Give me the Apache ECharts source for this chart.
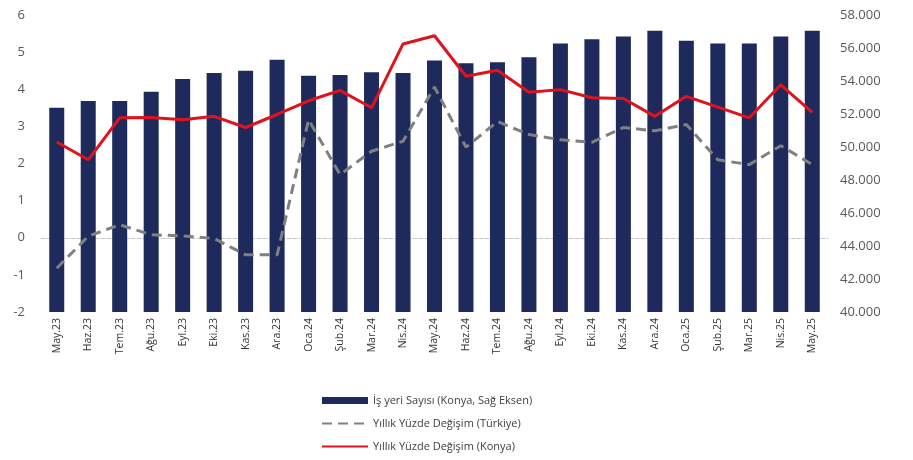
<!DOCTYPE html>
<html>
<head>
<meta charset="utf-8">
<script src="https://cdn.jsdelivr.net/npm/echarts@6/dist/echarts.min.js"></script>
<style>
  html, body { margin: 0; padding: 0; background: #fff; }
  #chart { width: 913px; height: 460px; }
</style>
</head>
<body>
<div id="chart"></div>
<script>
const months = ['May.23', 'Haz.23', 'Tem.23', 'Ağu.23', 'Eyl.23', 'Eki.23', 'Kas.23', 'Ara.23',
    'Oca.24', 'Şub.24', 'Mar.24', 'Nis.24', 'May.24', 'Haz.24', 'Tem.24', 'Ağu.24', 'Eyl.24',
    'Eki.24', 'Kas.24', 'Ara.24', 'Oca.25', 'Şub.25', 'Mar.25', 'Nis.25', 'May.25'];

// İş yeri sayısı (sağ eksen)
const isyeriKonya = [52380, 52790, 52790, 53350, 54120, 54480, 54620, 55290,
    54320, 54360, 54530, 54480, 55250, 55070, 55130, 55440, 56280,
    56530, 56690, 57050, 56440, 56280, 56280, 56690, 57050];

// Yıllık yüzde değişim (sol eksen)
const degisimTurkiye = [-0.82, 0.04, 0.35, 0.08, 0.05, -0.02, -0.46, -0.46,
    3.18, 1.70, 2.33, 2.60, 4.06, 2.44, 3.13, 2.78, 2.64,
    2.57, 2.97, 2.88, 3.05, 2.10, 1.97, 2.48, 1.97];

const degisimKonya = [2.58, 2.10, 3.23, 3.24, 3.18, 3.27, 2.97, 3.32,
    3.69, 3.97, 3.50, 5.22, 5.44, 4.35, 4.51, 3.92, 3.99,
    3.77, 3.75, 3.27, 3.81, 3.52, 3.23, 4.12, 3.38];

const fontName = '"Open Sans", Lato, sans-serif';

const option = {
    animation: false,
    grid: {
        left: 41,
        right: 85,
        top: 15,
        bottom: 148
    },
    legend: {
        orient: 'vertical',
        left: 316,
        top: 390,
        itemWidth: 46,
        itemHeight: 7,
        itemGap: 12,
        textStyle: {
            fontFamily: fontName,
            fontSize: 11,
            color: '#404040'
        },
        data: [
            { name: 'İş yeri Sayısı (Konya, Sağ Eksen)', icon: 'rect' },
            // sembol yok, sadece çizgi
            { name: 'Yıllık Yüzde Değişim (Türkiye)', itemStyle: { opacity: 0 } },
            { name: 'Yıllık Yüzde Değişim (Konya)', itemStyle: { opacity: 0 } }
        ]
    },
    xAxis: {
        type: 'category',
        data: months,
        axisLine: {
            onZero: true,
            onZeroAxisIndex: 0,
            lineStyle: {
                color: '#c8c8c8',
                type: 'dashed',
                width: 1
            }
        },
        axisTick: { show: false },
        axisLabel: {
            rotate: 90,
            interval: 0,
            margin: 6,
            fontFamily: fontName,
            fontSize: 10.5,
            color: '#333'
        },
        splitLine: { show: false }
    },
    yAxis: [
        {
            type: 'value',
            min: -2,
            max: 6,
            interval: 1,
            axisLine: { show: false },
            axisTick: { show: false },
            splitLine: { show: false },
            axisLabel: {
                margin: 16,
                fontFamily: fontName,
                fontSize: 13,
                color: '#595959'
            }
        },
        {
            type: 'value',
            min: 40000,
            max: 58000,
            interval: 2000,
            axisLine: { show: false },
            axisTick: { show: false },
            splitLine: { show: false },
            axisLabel: {
                margin: 12,
                fontFamily: fontName,
                fontSize: 13,
                color: '#595959',
                formatter: function (value) {
                    return String(value).replace(/\B(?=(\d{3})+(?!\d))/g, '.');
                }
            }
        }
    ],
    series: [
        {
            name: 'İş yeri Sayısı (Konya, Sağ Eksen)',
            type: 'bar',
            yAxisIndex: 1,
            data: isyeriKonya,
            barWidth: 15,
            itemStyle: { color: '#1d2a5b' }
        },
        {
            name: 'Yıllık Yüzde Değişim (Türkiye)',
            type: 'line',
            yAxisIndex: 0,
            data: degisimTurkiye,
            symbol: 'none',
            lineStyle: {
                color: '#808080',
                width: 3,
                type: [10, 6]
            },
            itemStyle: { color: '#808080' }
        },
        {
            name: 'Yıllık Yüzde Değişim (Konya)',
            type: 'line',
            yAxisIndex: 0,
            data: degisimKonya,
            symbol: 'none',
            lineStyle: {
                color: '#e0121b',
                width: 3
            },
            itemStyle: { color: '#e0121b' }
        }
    ]
};

const myChart = echarts.init(document.getElementById('chart'));
myChart.setOption(option);
window.addEventListener('resize', myChart.resize);
</script>
</body>
</html>
